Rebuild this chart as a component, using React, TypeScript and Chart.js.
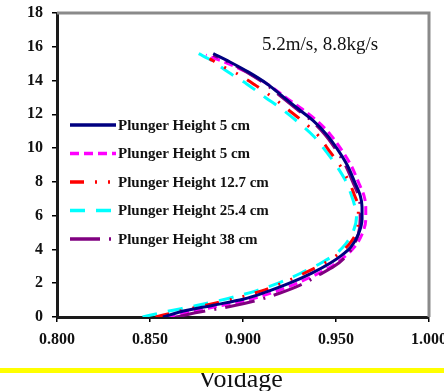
import React, { useEffect, useRef } from "react";
import { Chart, registerables } from "chart.js";

Chart.register(...registerables);

type Pt = [number, number]; // [voidage, height]

const seriesLabels = [
  "Plunger Height 5 cm",
  "Plunger Height 5 cm",
  "Plunger Height 12.7 cm",
  "Plunger Height 25.4 cm",
  "Plunger Height 38 cm",
];

const navySeries: Pt[] = [
  [0.857, 0], [0.866, 0.3], [0.884, 0.7], [0.9, 1.05], [0.913, 1.5], [0.925, 2.0],
  [0.937, 2.6], [0.947, 3.2], [0.953, 3.65], [0.958, 4.15], [0.962, 4.9], [0.964, 5.8],
  [0.964, 6.5], [0.963, 7.2], [0.96, 8.0], [0.956, 9.0], [0.951, 9.9], [0.945, 10.8],
  [0.938, 11.6], [0.93, 12.3], [0.922, 13.0], [0.913, 13.8], [0.903, 14.5], [0.893, 15.1],
  [0.884, 15.6],
];

const magentaSeries: Pt[] = [
  [0.859, 0], [0.87, 0.28], [0.887, 0.65], [0.903, 1.02], [0.916, 1.45], [0.928, 1.95],
  [0.94, 2.55], [0.949, 3.1], [0.955, 3.6], [0.96, 4.15], [0.964, 4.9], [0.966, 5.8],
  [0.966, 6.5], [0.965, 7.2], [0.962, 8.0], [0.958, 9.0], [0.953, 9.9], [0.947, 10.8],
  [0.94, 11.6], [0.932, 12.3], [0.923, 13.0], [0.913, 13.8], [0.902, 14.5], [0.89, 15.1],
  [0.88, 15.5],
];

const redSeries: Pt[] = [
  [0.853, 0], [0.864, 0.3], [0.88, 0.7], [0.896, 1.1], [0.91, 1.55], [0.922, 2.05],
  [0.935, 2.7], [0.944, 3.2], [0.951, 3.7], [0.957, 4.3], [0.961, 5.0], [0.962, 5.8],
  [0.962, 6.5], [0.96, 7.2], [0.957, 8.0], [0.952, 9.0], [0.946, 9.9], [0.94, 10.8],
  [0.932, 11.6], [0.924, 12.3], [0.916, 13.0], [0.907, 13.7], [0.897, 14.4], [0.888, 14.9],
  [0.882, 15.3],
];

const cyanSeries: Pt[] = [
  [0.846, 0], [0.858, 0.3], [0.875, 0.68], [0.892, 1.1], [0.907, 1.55], [0.92, 2.05],
  [0.933, 2.7], [0.942, 3.2], [0.95, 3.75], [0.955, 4.3], [0.959, 5.0], [0.961, 5.9],
  [0.96, 6.6], [0.958, 7.3], [0.955, 8.1], [0.95, 9.0], [0.944, 9.9], [0.938, 10.7],
  [0.93, 11.5], [0.921, 12.3], [0.912, 13.0], [0.902, 13.8], [0.892, 14.5], [0.883, 15.2],
  [0.876, 15.6],
];

const purpleSeries: Pt[] = [
  [0.864, 0], [0.876, 0.28], [0.893, 0.62], [0.908, 1.0], [0.92, 1.42], [0.931, 1.9],
  [0.941, 2.5], [0.949, 3.0], [0.955, 3.55], [0.959, 4.15], [0.962, 4.9], [0.963, 5.8],
  [0.963, 6.5], [0.962, 7.2], [0.959, 8.0], [0.955, 9.0], [0.95, 9.9], [0.944, 10.8],
  [0.937, 11.6], [0.929, 12.3], [0.921, 13.0], [0.912, 13.8], [0.902, 14.5], [0.892, 15.1],
  [0.884, 15.5],
];

const xTicks = [0.8, 0.85, 0.9, 0.95, 1.0];
const yTicks = [0, 2, 4, 6, 8, 10, 12, 14, 16, 18];

const annotationText = "5.2m/s, 8.8kg/s";
const xTitle = "Voidage";

const colors = ["#000080", "#FF00FF", "#FF0000", "#00FFFF", "#800080"];
const dashes: number[][] = [[], [9, 5], [14, 11, 2, 11, 2, 11], [15, 11], [30, 9, 2, 9]];
const allSeries = [navySeries, magentaSeries, redSeries, cyanSeries, purpleSeries];
const drawOrder = [0, 2, 4, 3, 1];

const SERIF = "'Liberation Serif', 'Times New Roman', serif";

const overlayPlugin = {
  id: "overlay",
  afterDraw(chart: any) {
    const ctx = chart.ctx as CanvasRenderingContext2D;
    const a = chart.chartArea;
    ctx.save();
    ctx.strokeStyle = "#8a8a8a";
    ctx.lineWidth = 3;
    ctx.setLineDash([]);
    ctx.beginPath();
    ctx.moveTo(a.left, a.top);
    ctx.lineTo(a.right, a.top);
    ctx.lineTo(a.right, a.bottom);
    ctx.stroke();

    ctx.fillStyle = "#111";
    ctx.font = `19px ${SERIF}`;
    ctx.textAlign = "left";
    ctx.textBaseline = "middle";
    ctx.fillText(annotationText, 262, 45);

    const ys = [125, 153.5, 182, 210.5, 239];
    for (let i = 0; i < seriesLabels.length; i++) {
      const y = ys[i];
      ctx.strokeStyle = colors[i];
      ctx.lineWidth = 3.5;
      ctx.lineCap = "butt";
      ctx.setLineDash(dashes[i]);
      ctx.beginPath();
      ctx.moveTo(70, y);
      ctx.lineTo(116, y);
      ctx.stroke();
      ctx.setLineDash([]);
      ctx.fillStyle = "#111";
      ctx.font = `bold 15px ${SERIF}`;
      ctx.textBaseline = "middle";
      ctx.fillText(seriesLabels[i], 118, y + 1);
    }

    ctx.font = `26px ${SERIF}`;
    ctx.textBaseline = "alphabetic";
    ctx.fillStyle = "#111";
    ctx.fillText(xTitle, 198, 387);

    ctx.fillStyle = "#FFFF00";
    ctx.fillRect(0, 368, chart.width, 5);
    ctx.restore();
  },
};

export default function App() {
  const ref = useRef<HTMLCanvasElement | null>(null);
  useEffect(() => {
    document.body.style.margin = "0";
    const canvas = ref.current;
    if (!canvas) return;
    const datasets = drawOrder.map((i, k) => ({
      label: seriesLabels[i],
      data: allSeries[i].map(([x, y]) => ({ x, y })),
      borderColor: colors[i],
      backgroundColor: colors[i],
      borderWidth: 3,
      borderDash: dashes[i],
      borderCapStyle: "butt" as const,
      showLine: true,
      pointRadius: 0,
      cubicInterpolationMode: "monotone" as const,
      fill: false,
      order: k,
    }));
    const chart = new Chart(canvas, {
      type: "scatter",
      data: { datasets },
      plugins: [overlayPlugin],
      options: {
        indexAxis: "y",
        animation: false,
        responsive: false,
        devicePixelRatio: 1,
        layout: { padding: { top: 13, right: 15, left: 0, bottom: 0 } },
        plugins: { legend: { display: false }, tooltip: { enabled: false } },
        scales: {
          x: {
            type: "linear",
            position: "bottom",
            min: 0.8,
            max: 1.0,
            afterBuildTicks: (s: any) => {
              s.ticks = xTicks.map((v) => ({ value: v }));
            },
            afterFit: (s: any) => {
              s.height = 74;
              s.paddingLeft = 0;
              s.paddingRight = 0;
            },
            border: { display: true, color: "#1a1a1a", width: 3 },
            grid: { drawOnChartArea: false, drawTicks: true, tickLength: 5, color: "#000", lineWidth: 1.5 },
            ticks: {
              padding: 8,
              color: "#111",
              font: { family: SERIF, size: 16, weight: "bold" },
              callback: (v: any) => Number(v).toFixed(3),
              maxRotation: 0,
            },
          },
          y: {
            type: "linear",
            position: "left",
            min: 0,
            max: 18,
            afterBuildTicks: (s: any) => {
              s.ticks = yTicks.map((v) => ({ value: v }));
            },
            afterFit: (s: any) => {
              s.width = 57;
              s.paddingTop = 0;
              s.paddingBottom = 0;
            },
            border: { display: true, color: "#1a1a1a", width: 3 },
            grid: { drawOnChartArea: false, drawTicks: true, tickLength: 5, color: "#000", lineWidth: 1.5 },
            ticks: {
              padding: 9,
              color: "#111",
              font: { family: SERIF, size: 16, weight: "bold" },
              callback: (v: any) => String(v),
            },
          },
        },
      },
    });
    return () => chart.destroy();
  }, []);
  return <canvas ref={ref} width={444} height={391} style={{ width: 444, height: 391, display: "block" }} />;
}
